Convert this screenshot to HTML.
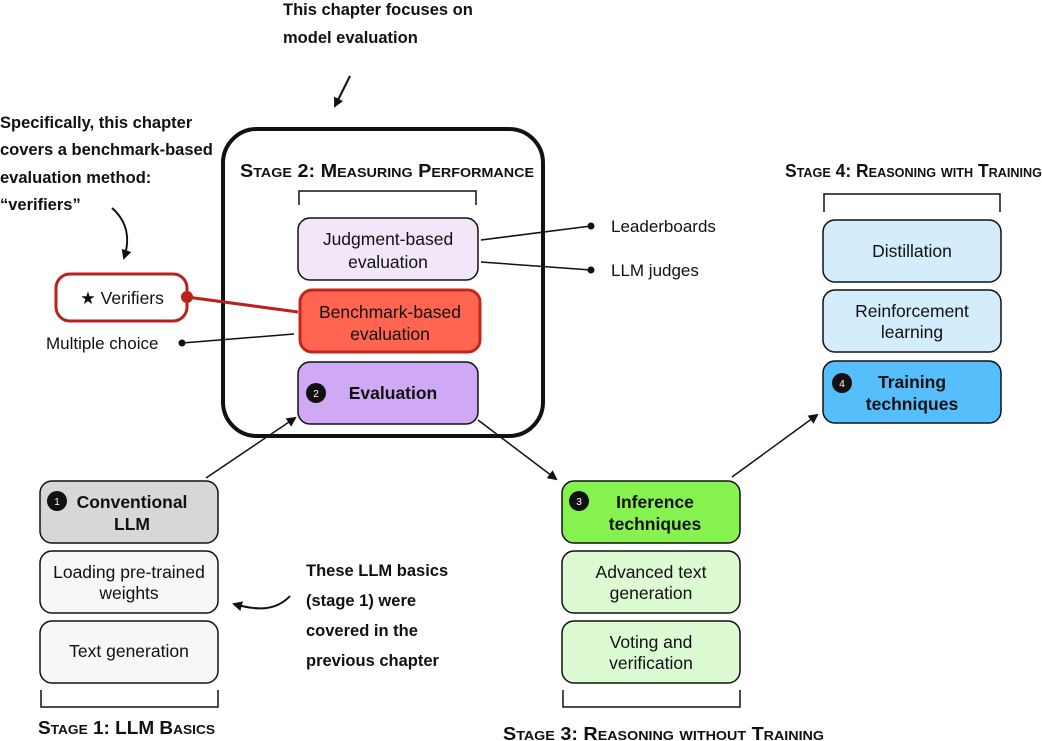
<!DOCTYPE html>
<html><head><meta charset="utf-8"><style>
html,body{margin:0;padding:0;background:#fff;width:1042px;height:741px;overflow:hidden}
svg{display:block}
.n{font-family:"Liberation Sans",sans-serif;font-size:17.5px;fill:#111;text-anchor:middle}
.b{font-weight:bold}
.s{font-family:"Liberation Sans",sans-serif;font-weight:bold;font-size:18px;font-variant:small-caps;fill:#111}
.a{font-family:"Liberation Sans Narrow","Liberation Sans",sans-serif;font-weight:bold;font-size:16.5px;fill:#111}
.l{font-family:"Liberation Sans",sans-serif;font-size:17px;fill:#111}
</style></head><body>
<svg width="1042" height="741" viewBox="0 0 1042 741">
<defs><marker id="ar" markerWidth="10" markerHeight="10" refX="8" refY="5" orient="auto" markerUnits="userSpaceOnUse"><path d="M0,0 L10,5 L0,10 z" fill="#111"/></marker></defs>

<text class="a" x="283" y="15">This chapter focuses on</text>
<text class="a" x="283" y="43">model evaluation</text>
<line x1="350" y1="76" x2="335" y2="106" stroke="#111" stroke-width="2" marker-end="url(#ar)"/>

<text class="a" x="0" y="128">Specifically, this chapter</text>
<text class="a" x="0" y="155">covers a benchmark-based</text>
<text class="a" x="0" y="183">evaluation method:</text>
<text class="a" x="0" y="210">“verifiers”</text>
<path d="M112,208 C128,222 130,240 124,258" fill="none" stroke="#111" stroke-width="2" marker-end="url(#ar)"/>

<rect x="223" y="129" width="320" height="307" rx="34" fill="none" stroke="#111" stroke-width="4"/>
<text class="s" x="240" y="177" textLength="294" lengthAdjust="spacingAndGlyphs">Stage 2: Measuring Performance</text>
<path d="M299,205 V191 H476 V205" fill="none" stroke="#111" stroke-width="1.5"/>

<rect x="298" y="218" width="180" height="62" rx="12" fill="#f1e7f9" stroke="#111" stroke-width="1.5"/>
<text class="n" x="388" y="245">Judgment-based</text><text class="n" x="388" y="268">evaluation</text>
<rect x="300" y="290" width="180" height="62" rx="12" fill="#ff6550" stroke="#c0281b" stroke-width="3"/>
<text class="n" x="390" y="318">Benchmark-based</text><text class="n" x="390" y="340">evaluation</text>
<rect x="298" y="362" width="180" height="62" rx="12" fill="#cfa9f3" stroke="#111" stroke-width="1.5"/>
<circle cx="316" cy="393" r="10" fill="#111"/><text x="316" y="397" font-family="Liberation Sans" font-size="10" fill="#fff" text-anchor="middle">2</text>
<text class="n b" x="393" y="399">Evaluation</text>

<line x1="481" y1="240" x2="591" y2="226" stroke="#111" stroke-width="1.5"/><circle cx="591" cy="226" r="3.5" fill="#111"/>
<text class="l" x="611" y="232">Leaderboards</text>
<line x1="481" y1="262" x2="591" y2="270" stroke="#111" stroke-width="1.5"/><circle cx="591" cy="270" r="3.5" fill="#111"/>
<text class="l" x="611" y="276">LLM judges</text>
<line x1="294" y1="334" x2="182" y2="343" stroke="#111" stroke-width="1.5"/><circle cx="182" cy="343" r="3.5" fill="#111"/>
<text class="l" x="46" y="349">Multiple choice</text>

<rect x="56" y="274" width="131" height="47" rx="14" fill="#fff" stroke="#b8221a" stroke-width="3"/>
<text class="n" x="122" y="304">★ Verifiers</text>
<line x1="187" y1="297" x2="298" y2="312" stroke="#b8221a" stroke-width="3"/><circle cx="187" cy="297" r="6" fill="#b8221a"/>

<rect x="40" y="481" width="178" height="62" rx="12" fill="#d7d7d7" stroke="#111" stroke-width="1.5"/>
<circle cx="57" cy="501" r="10" fill="#111"/><text x="57" y="505" font-family="Liberation Sans" font-size="10" fill="#fff" text-anchor="middle">1</text>
<text class="n b" x="132" y="508">Conventional</text><text class="n b" x="132" y="530">LLM</text>
<rect x="40" y="551" width="178" height="62" rx="12" fill="#f7f7f7" stroke="#111" stroke-width="1.5"/>
<text class="n" x="129" y="578">Loading pre-trained</text><text class="n" x="129" y="599">weights</text>
<rect x="40" y="621" width="178" height="62" rx="12" fill="#f7f7f7" stroke="#111" stroke-width="1.5"/>
<text class="n" x="129" y="657">Text generation</text>
<path d="M41,690 V707 H218 V690" fill="none" stroke="#111" stroke-width="1.5"/>
<text class="s" x="38" y="734" textLength="177" lengthAdjust="spacingAndGlyphs">Stage 1: LLM Basics</text>

<text class="a" x="306" y="576">These LLM basics</text>
<text class="a" x="306" y="606">(stage 1) were</text>
<text class="a" x="306" y="636">covered in the</text>
<text class="a" x="306" y="666">previous chapter</text>
<path d="M290,596 C275,612 255,610 234,604" fill="none" stroke="#111" stroke-width="2" marker-end="url(#ar)"/>

<rect x="562" y="481" width="178" height="62" rx="12" fill="#86f24f" stroke="#111" stroke-width="1.5"/>
<circle cx="579" cy="501" r="10" fill="#111"/><text x="579" y="505" font-family="Liberation Sans" font-size="10" fill="#fff" text-anchor="middle">3</text>
<text class="n b" x="655" y="508">Inference</text><text class="n b" x="655" y="530">techniques</text>
<rect x="562" y="551" width="178" height="62" rx="12" fill="#dcfbd2" stroke="#111" stroke-width="1.5"/>
<text class="n" x="651" y="578">Advanced text</text><text class="n" x="651" y="599">generation</text>
<rect x="562" y="621" width="178" height="62" rx="12" fill="#dcfbd2" stroke="#111" stroke-width="1.5"/>
<text class="n" x="651" y="648">Voting and</text><text class="n" x="651" y="669">verification</text>
<path d="M563,690 V707 H740 V690" fill="none" stroke="#111" stroke-width="1.5"/>
<text class="s" x="503" y="740" textLength="321" lengthAdjust="spacingAndGlyphs">Stage 3: Reasoning without Training</text>

<text class="s" x="785" y="177" textLength="257" lengthAdjust="spacingAndGlyphs">Stage 4: Reasoning with Training</text>
<path d="M824,212 V194 H1000 V212" fill="none" stroke="#111" stroke-width="1.5"/>
<rect x="823" y="220" width="178" height="62" rx="12" fill="#d4edfd" stroke="#111" stroke-width="1.5"/>
<text class="n" x="912" y="257">Distillation</text>
<rect x="823" y="290" width="178" height="62" rx="12" fill="#d4edfd" stroke="#111" stroke-width="1.5"/>
<text class="n" x="912" y="317">Reinforcement</text><text class="n" x="912" y="338">learning</text>
<rect x="823" y="361" width="178" height="62" rx="12" fill="#55befb" stroke="#111" stroke-width="1.5"/>
<circle cx="842" cy="383" r="10" fill="#111"/><text x="842" y="387" font-family="Liberation Sans" font-size="10" fill="#fff" text-anchor="middle">4</text>
<text class="n b" x="912" y="388">Training</text><text class="n b" x="912" y="410">techniques</text>

<line x1="206" y1="478" x2="295" y2="418" stroke="#111" stroke-width="1.5" marker-end="url(#ar)"/>
<line x1="478" y1="420" x2="556" y2="479" stroke="#111" stroke-width="1.5" marker-end="url(#ar)"/>
<line x1="732" y1="477" x2="817" y2="415" stroke="#111" stroke-width="1.5" marker-end="url(#ar)"/>
</svg>
</body></html>
